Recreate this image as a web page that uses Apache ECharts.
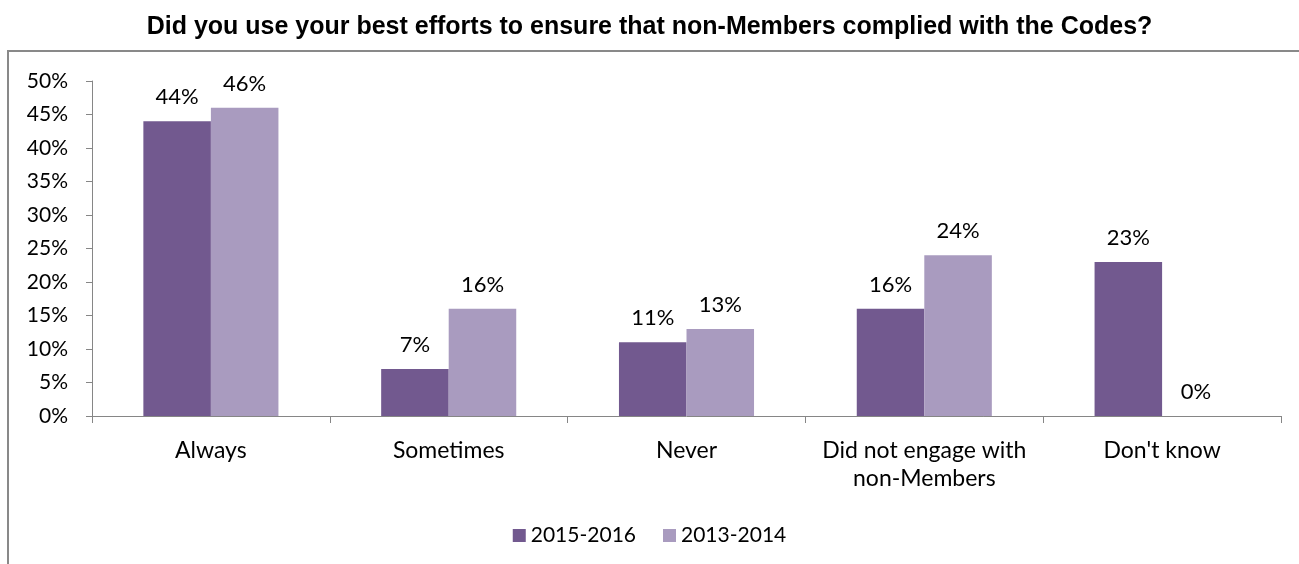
<!DOCTYPE html>
<html>
<head>
<meta charset="utf-8">
<script src="https://cdn.jsdelivr.net/npm/echarts@6/dist/echarts.min.js"></script>
<style>
  html, body { margin: 0; padding: 0; background: #fff; }
  #chart { width: 1299px; height: 564px; }
</style>
</head>
<body>
<div id="chart"></div>
<script>
// Survey answers, in percent
const categories = ['Always', 'Sometimes', 'Never', 'Did not engage with\nnon-Members', "Don't know"];
const series2015 = [44, 7, 11, 16, 23];
const series2013 = [46, 16, 13, 24, 0];
const seriesNames = ['2015-2016', '2013-2014'];

const LABEL_FONT = 'Lato, "Open Sans", sans-serif';
const chart = echarts.init(document.getElementById('chart'));

chart.setOption({
  animation: false,
  backgroundColor: '#ffffff',
  title: {
    text: 'Did you use your best efforts to ensure that non-Members complied with the Codes?',
    left: 'center',
    top: 15,
    padding: 0,
    textStyle: {
      fontFamily: '"Liberation Sans", Arial, sans-serif',
      fontWeight: 'bold',
      fontSize: 25,
      color: '#000'
    }
  },
  graphic: [{
    type: 'rect',
    shape: { x: 8, y: 51, width: 1400, height: 600 },
    style: { fill: 'none', stroke: '#898989', lineWidth: 2 },
    silent: true,
    z: -1
  }],
  legend: {
    bottom: 13,
    left: 'center',
    itemWidth: 13,
    itemHeight: 13,
    itemGap: 27,
    icon: 'rect',
    textStyle: { fontFamily: LABEL_FONT, fontSize: 21, color: '#000' },
    data: seriesNames
  },
  grid: { left: 92, right: 18, top: 81, bottom: 148, containLabel: false },
  xAxis: {
    type: 'category',
    data: categories,
    axisLine: { lineStyle: { color: '#868686', width: 1 } },
    axisTick: { show: true, length: 7, lineStyle: { color: '#868686' } },
    axisLabel: {
      fontFamily: LABEL_FONT, fontSize: 23, color: '#000',
      margin: 21, lineHeight: 28, interval: 0
    }
  },
  yAxis: {
    type: 'value',
    min: 0,
    max: 50,
    interval: 5,
    splitLine: { show: false },
    axisLine: { show: true, lineStyle: { color: '#868686', width: 1 } },
    axisTick: { show: true, length: 6, lineStyle: { color: '#868686' } },
    axisLabel: {
      formatter: '{value}%',
      fontFamily: LABEL_FONT, fontSize: 21, color: '#000', margin: 24
    }
  },
  series: [
    {
      name: seriesNames[0],
      type: 'bar',
      data: series2015,
      barWidth: '28.4%',
      barGap: '0%',
      itemStyle: { color: '#72598F' },
      label: {
        show: true, position: 'top', distance: 13, formatter: '{c}%',
        fontFamily: LABEL_FONT, fontSize: 22, color: '#000'
      }
    },
    {
      name: seriesNames[1],
      type: 'bar',
      data: series2013,
      barWidth: '28.4%',
      barGap: '0%',
      itemStyle: { color: '#A99BBF' },
      label: {
        show: true, position: 'top', distance: 13, formatter: '{c}%',
        fontFamily: LABEL_FONT, fontSize: 22, color: '#000'
      }
    }
  ]
});
</script>
</body>
</html>
